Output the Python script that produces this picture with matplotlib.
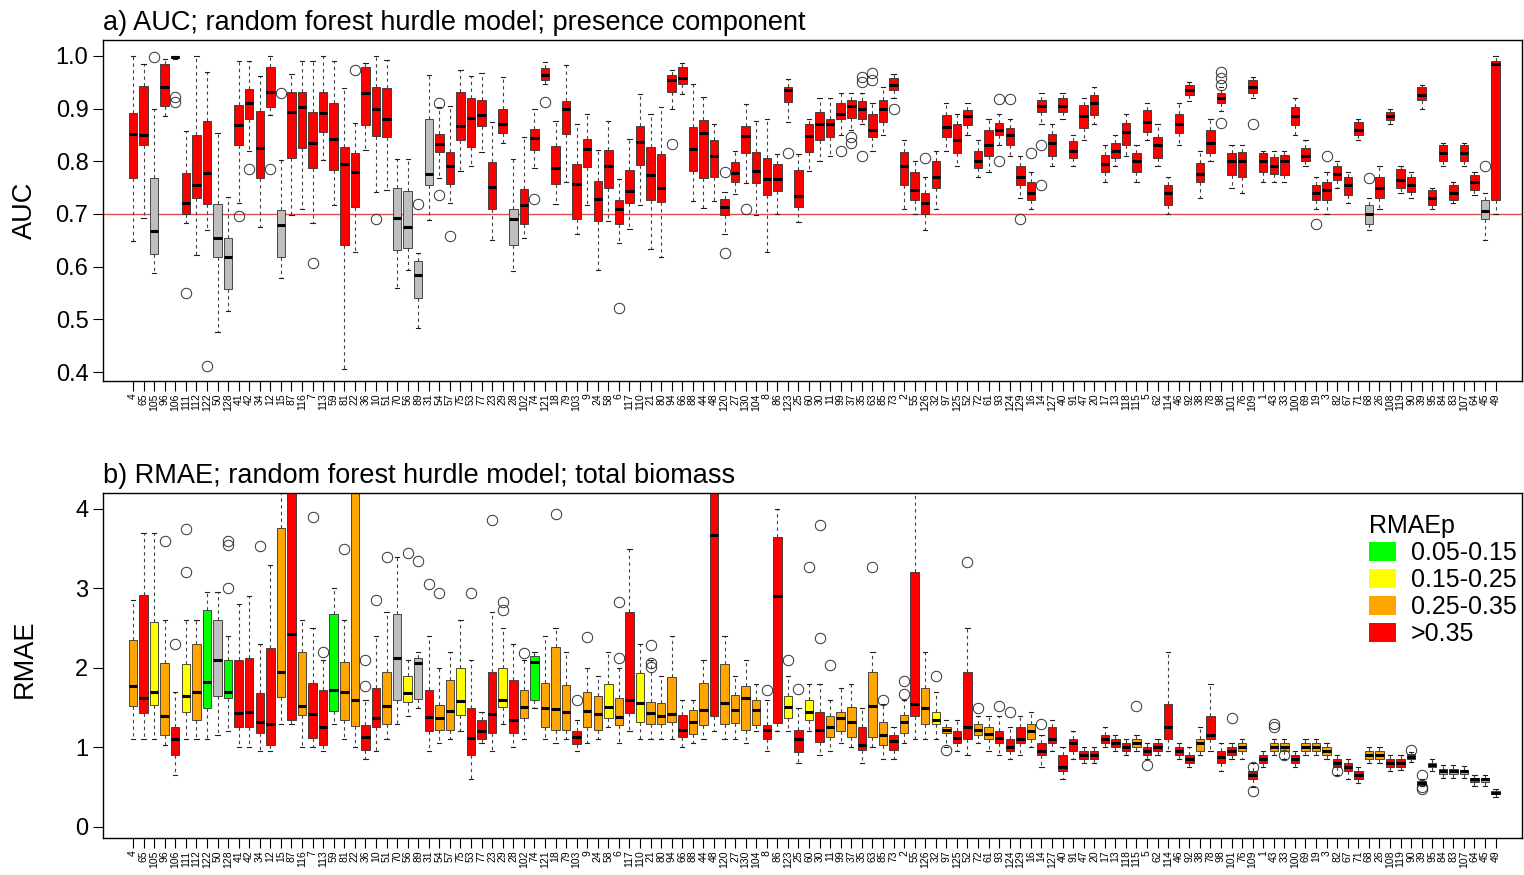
import matplotlib
matplotlib.use("Agg")
import matplotlib.pyplot as plt
from matplotlib.patches import Patch

plt.rcParams['font.family'] = ['Liberation Sans', 'DejaVu Sans']

species = [4, 65, 105, 96, 106, 111, 112, 122, 50, 128,
           41, 42, 34, 12, 15, 87, 116, 7, 113, 59,
           81, 22, 36, 10, 51, 70, 56, 89, 31, 54,
           57, 75, 53, 77, 23, 29, 28, 102, 74, 121,
           18, 79, 103, 9, 24, 58, 6, 117, 110, 21,
           80, 94, 66, 88, 44, 48, 120, 27, 130, 104,
           8, 86, 123, 25, 60, 30, 11, 99, 37, 35,
           63, 85, 73, 2, 55, 126, 32, 97, 125, 52,
           72, 61, 93, 124, 129, 16, 14, 127, 40, 91,
           47, 20, 17, 13, 118, 115, 5, 62, 114, 46,
           92, 38, 78, 98, 101, 76, 109, 1, 43, 33,
           100, 69, 19, 3, 82, 67, 71, 68, 26, 108,
           119, 90, 39, 95, 84, 83, 107, 64, 45, 49]

# ---- panel a: AUC ----
auc_lo = [0.648, 0.692, 0.587, 0.886, 0.993, 0.682, 0.622, 0.669, 0.476, 0.515,
          0.720, 0.820, 0.676, 0.888, 0.578, 0.698, 0.709, 0.682, 0.803, 0.717,
          0.405, 0.628, 0.822, 0.741, 0.746, 0.559, 0.593, 0.483, 0.689, 0.768,
          0.720, 0.781, 0.790, 0.817, 0.650, 0.835, 0.591, 0.655, 0.787, 0.946,
          0.718, 0.760, 0.662, 0.717, 0.593, 0.687, 0.644, 0.671, 0.717, 0.633,
          0.618, 0.900, 0.927, 0.724, 0.711, 0.724, 0.662, 0.738, 0.759, 0.698,
          0.628, 0.699, 0.875, 0.685, 0.782, 0.800, 0.810, 0.850, 0.860, 0.870,
          0.820, 0.850, 0.920, 0.710, 0.700, 0.670, 0.710, 0.820, 0.790, 0.850,
          0.770, 0.780, 0.830, 0.810, 0.730, 0.710, 0.870, 0.790, 0.880, 0.790,
          0.840, 0.870, 0.760, 0.790, 0.810, 0.760, 0.840, 0.790, 0.700, 0.830,
          0.915, 0.730, 0.800, 0.895, 0.750, 0.740, 0.920, 0.760, 0.760, 0.760,
          0.850, 0.790, 0.710, 0.700, 0.750, 0.720, 0.840, 0.670, 0.710, 0.870,
          0.740, 0.730, 0.900, 0.710, 0.790, 0.720, 0.790, 0.735, 0.650, 0.700]
auc_q1 = [0.769, 0.831, 0.624, 0.905, 0.995, 0.699, 0.730, 0.719, 0.618, 0.557,
          0.831, 0.880, 0.768, 0.902, 0.618, 0.806, 0.825, 0.787, 0.855, 0.784,
          0.641, 0.714, 0.869, 0.847, 0.846, 0.631, 0.636, 0.540, 0.754, 0.817,
          0.757, 0.840, 0.827, 0.866, 0.710, 0.854, 0.641, 0.681, 0.821, 0.955,
          0.757, 0.851, 0.690, 0.789, 0.687, 0.749, 0.681, 0.720, 0.792, 0.727,
          0.722, 0.931, 0.946, 0.782, 0.769, 0.770, 0.698, 0.760, 0.816, 0.759,
          0.735, 0.744, 0.913, 0.714, 0.817, 0.840, 0.846, 0.880, 0.882, 0.880,
          0.845, 0.875, 0.936, 0.755, 0.727, 0.700, 0.750, 0.846, 0.816, 0.869,
          0.787, 0.810, 0.850, 0.830, 0.755, 0.727, 0.893, 0.810, 0.893, 0.806,
          0.863, 0.888, 0.780, 0.806, 0.830, 0.780, 0.855, 0.806, 0.717, 0.853,
          0.926, 0.760, 0.816, 0.910, 0.774, 0.770, 0.930, 0.780, 0.776, 0.774,
          0.869, 0.800, 0.727, 0.727, 0.765, 0.735, 0.850, 0.680, 0.730, 0.878,
          0.750, 0.742, 0.916, 0.717, 0.800, 0.727, 0.800, 0.745, 0.690, 0.727]
auc_med = [0.852, 0.849, 0.668, 0.940, 0.998, 0.720, 0.754, 0.778, 0.655, 0.618,
           0.869, 0.910, 0.825, 0.932, 0.679, 0.894, 0.902, 0.834, 0.892, 0.843,
           0.794, 0.780, 0.929, 0.900, 0.880, 0.693, 0.676, 0.585, 0.776, 0.832,
           0.790, 0.867, 0.882, 0.887, 0.752, 0.870, 0.690, 0.716, 0.844, 0.964,
           0.787, 0.899, 0.757, 0.824, 0.729, 0.790, 0.709, 0.743, 0.837, 0.773,
           0.750, 0.954, 0.957, 0.824, 0.854, 0.810, 0.713, 0.777, 0.847, 0.782,
           0.766, 0.766, 0.935, 0.734, 0.847, 0.870, 0.870, 0.890, 0.905, 0.900,
           0.860, 0.900, 0.945, 0.790, 0.745, 0.720, 0.770, 0.865, 0.840, 0.885,
           0.800, 0.830, 0.860, 0.850, 0.770, 0.740, 0.905, 0.835, 0.905, 0.820,
           0.885, 0.910, 0.795, 0.820, 0.855, 0.800, 0.875, 0.830, 0.740, 0.870,
           0.935, 0.775, 0.835, 0.920, 0.800, 0.800, 0.940, 0.800, 0.790, 0.800,
           0.885, 0.810, 0.740, 0.745, 0.775, 0.755, 0.860, 0.700, 0.750, 0.885,
           0.765, 0.755, 0.925, 0.730, 0.815, 0.740, 0.815, 0.760, 0.705, 0.985]
auc_q3 = [0.892, 0.942, 0.769, 0.985, 1.000, 0.777, 0.850, 0.876, 0.719, 0.654,
          0.906, 0.937, 0.896, 0.978, 0.708, 0.931, 0.931, 0.894, 0.931, 0.911,
          0.827, 0.815, 0.978, 0.940, 0.938, 0.749, 0.743, 0.611, 0.881, 0.851,
          0.817, 0.932, 0.919, 0.916, 0.799, 0.900, 0.710, 0.748, 0.862, 0.977,
          0.829, 0.915, 0.794, 0.843, 0.762, 0.822, 0.727, 0.784, 0.867, 0.827,
          0.813, 0.964, 0.978, 0.864, 0.878, 0.841, 0.728, 0.799, 0.867, 0.818,
          0.806, 0.794, 0.940, 0.784, 0.870, 0.893, 0.880, 0.910, 0.916, 0.915,
          0.890, 0.916, 0.958, 0.818, 0.780, 0.740, 0.800, 0.888, 0.870, 0.897,
          0.820, 0.860, 0.873, 0.863, 0.790, 0.760, 0.916, 0.852, 0.920, 0.838,
          0.907, 0.926, 0.812, 0.835, 0.873, 0.815, 0.897, 0.846, 0.755, 0.890,
          0.945, 0.797, 0.860, 0.930, 0.815, 0.818, 0.955, 0.815, 0.808, 0.812,
          0.903, 0.825, 0.755, 0.760, 0.790, 0.770, 0.875, 0.717, 0.770, 0.893,
          0.785, 0.770, 0.940, 0.745, 0.830, 0.755, 0.830, 0.774, 0.727, 0.990]
auc_hi = [1.000, 0.985, 0.899, 0.994, 1.000, 0.857, 1.000, 0.969, 0.854, 0.733,
          0.991, 0.991, 0.962, 0.999, 0.803, 0.966, 0.990, 0.991, 1.000, 0.991,
          0.938, 0.873, 0.986, 1.000, 0.992, 0.805, 0.805, 0.626, 0.964, 0.903,
          0.905, 0.973, 0.962, 0.967, 0.875, 0.959, 0.804, 0.845, 0.900, 0.988,
          0.876, 0.983, 0.870, 0.889, 0.822, 0.876, 0.767, 0.843, 0.927, 0.890,
          0.902, 0.973, 0.986, 0.946, 0.922, 0.870, 0.741, 0.819, 0.908, 0.876,
          0.880, 0.813, 0.956, 0.813, 0.880, 0.920, 0.920, 0.930, 0.930, 0.930,
          0.910, 0.940, 0.965, 0.840, 0.800, 0.770, 0.820, 0.910, 0.890, 0.910,
          0.840, 0.880, 0.890, 0.880, 0.810, 0.780, 0.930, 0.870, 0.930, 0.850,
          0.920, 0.940, 0.830, 0.850, 0.890, 0.830, 0.910, 0.870, 0.770, 0.910,
          0.950, 0.820, 0.880, 0.940, 0.830, 0.830, 0.960, 0.820, 0.820, 0.820,
          0.920, 0.840, 0.770, 0.780, 0.800, 0.780, 0.880, 0.730, 0.790, 0.900,
          0.790, 0.780, 0.945, 0.750, 0.835, 0.760, 0.835, 0.780, 0.740, 1.000]
auc_out = {3: [0.997], 5: [0.921, 0.913], 6: [0.550], 8: [0.411], 11: [0.696],
           12: [0.785], 14: [0.785], 15: [0.929], 18: [0.606], 22: [0.973],
           24: [0.690], 28: [0.719], 30: [0.911, 0.736], 31: [0.659], 39: [0.729],
           40: [0.913], 47: [0.522], 52: [0.832], 57: [0.780, 0.626], 59: [0.710],
           63: [0.815], 68: [0.82], 69: [0.846, 0.835], 70: [0.96, 0.95, 0.81],
           71: [0.968, 0.955], 73: [0.90], 76: [0.806], 83: [0.918, 0.80],
           84: [0.918], 85: [0.69], 86: [0.815], 87: [0.83, 0.755],
           104: [0.97, 0.958, 0.945, 0.873], 107: [0.87], 113: [0.68],
           114: [0.81], 118: [0.768], 129: [0.79]}
auc_cat = list("rrgrrrrrgg"
               "rrrrgrrrrr"
               "rrrrrggggr"
               "rrrrrrgrrr"
               "rrrrrrrrrr"
               "rrrrrrrrrr"
               "rrrrrrrrrr"
               "rrrrrrrrrr"
               "rrrrrrrrrr"
               "rrrrrrrrrr"
               "rrrrrrrrrr"
               "rrrrrrrgrr"
               "rrrrrrrrgr")

# ---- panel b: RMAE ----
rmae_lo = [1.10, 1.10, 1.10, 1.03, 0.65, 1.10, 1.10, 1.10, 1.15, 1.20,
           1.00, 1.00, 0.95, 0.95, 1.30, 1.30, 1.00, 1.00, 0.95, 1.30,
           1.10, 1.00, 0.85, 0.95, 1.10, 1.30, 1.40, 1.50, 0.95, 1.05,
           1.10, 1.20, 0.60, 1.05, 0.95, 1.30, 1.00, 1.10, 1.50, 1.10,
           1.05, 1.10, 0.95, 1.05, 1.10, 1.25, 1.05, 1.20, 1.10, 1.10,
           1.10, 1.10, 1.00, 1.05, 1.10, 1.20, 1.10, 1.10, 1.05, 1.20,
           0.95, 1.20, 1.20, 0.80, 1.20, 0.90, 0.95, 1.05, 1.00, 0.80,
           1.00, 0.85, 0.85, 1.05, 1.10, 1.10, 1.10, 1.00, 0.95, 0.90,
           1.05, 0.95, 0.90, 0.85, 0.90, 1.00, 0.75, 0.95, 0.60, 0.85,
           0.80, 0.80, 1.00, 0.95, 0.90, 0.95, 0.85, 0.90, 0.95, 0.85,
           0.75, 0.90, 0.95, 0.70, 0.85, 0.85, 0.50, 0.75, 0.90, 0.85,
           0.75, 0.90, 0.90, 0.85, 0.65, 0.60, 0.55, 0.80, 0.80, 0.70,
           0.72, 0.82, 0.52, 0.70, 0.62, 0.62, 0.62, 0.52, 0.52, 0.38]
rmae_q1 = [1.52, 1.43, 1.53, 1.16, 0.90, 1.45, 1.35, 1.50, 1.64, 1.62,
           1.26, 1.25, 1.18, 1.03, 1.63, 1.35, 1.41, 1.12, 1.03, 1.46,
           1.35, 1.27, 0.97, 1.25, 1.30, 1.60, 1.57, 1.61, 1.20, 1.22,
           1.22, 1.41, 0.90, 1.10, 1.18, 1.51, 1.18, 1.37, 1.60, 1.26,
           1.22, 1.22, 1.04, 1.26, 1.22, 1.37, 1.28, 1.43, 1.32, 1.30,
           1.30, 1.32, 1.13, 1.17, 1.28, 1.40, 1.30, 1.31, 1.22, 1.28,
           1.10, 1.31, 1.37, 0.94, 1.35, 1.07, 1.13, 1.20, 1.13, 0.97,
           1.13, 1.03, 0.97, 1.18, 1.40, 1.30, 1.30, 1.18, 1.05, 1.10,
           1.15, 1.10, 1.05, 0.95, 1.05, 1.10, 0.90, 1.05, 0.70, 0.95,
           0.85, 0.85, 1.05, 1.00, 0.95, 1.00, 0.90, 0.95, 1.10, 0.90,
           0.80, 0.95, 1.10, 0.80, 0.90, 0.95, 0.60, 0.80, 0.95, 0.95,
           0.80, 0.95, 0.95, 0.90, 0.75, 0.70, 0.60, 0.85, 0.85, 0.75,
           0.75, 0.85, 0.53, 0.75, 0.67, 0.67, 0.66, 0.56, 0.56, 0.41]
rmae_med = [1.77, 1.62, 1.70, 1.40, 1.10, 1.65, 1.70, 1.82, 2.10, 1.70,
            1.43, 1.44, 1.32, 1.30, 1.95, 2.43, 1.52, 1.42, 1.25, 1.72,
            1.70, 1.60, 1.13, 1.37, 1.52, 2.13, 1.68, 2.06, 1.38, 1.37,
            1.46, 1.58, 1.12, 1.20, 1.42, 1.60, 1.35, 1.51, 2.08, 1.50,
            1.48, 1.45, 1.13, 1.46, 1.42, 1.51, 1.38, 1.60, 1.56, 1.43,
            1.40, 1.42, 1.22, 1.32, 1.47, 3.67, 1.56, 1.47, 1.62, 1.47,
            1.22, 2.90, 1.51, 1.10, 1.45, 1.22, 1.25, 1.37, 1.32, 1.03,
            1.52, 1.16, 1.08, 1.32, 1.55, 1.50, 1.35, 1.22, 1.12, 1.25,
            1.22, 1.17, 1.12, 1.00, 1.10, 1.20, 0.95, 1.10, 0.75, 1.05,
            0.90, 0.90, 1.10, 1.05, 1.00, 1.05, 0.95, 1.00, 1.25, 0.95,
            0.85, 1.05, 1.15, 0.88, 0.95, 1.00, 0.65, 0.85, 1.00, 1.00,
            0.85, 1.00, 1.00, 0.95, 0.80, 0.75, 0.65, 0.90, 0.90, 0.80,
            0.80, 0.88, 0.55, 0.78, 0.70, 0.70, 0.70, 0.60, 0.60, 0.43]
rmae_q3 = [2.35, 2.92, 2.58, 2.06, 1.25, 2.05, 2.30, 2.73, 2.60, 2.10,
           2.10, 2.12, 1.69, 2.25, 3.76, 4.30, 2.20, 1.81, 1.72, 2.68,
           2.08, 4.30, 1.28, 1.75, 1.95, 2.68, 1.90, 2.12, 1.72, 1.53,
           1.85, 2.00, 1.50, 1.35, 1.95, 2.00, 1.85, 1.72, 2.15, 1.81,
           2.26, 1.79, 1.20, 1.70, 1.64, 1.80, 1.62, 2.70, 1.94, 1.57,
           1.56, 1.89, 1.41, 1.47, 1.81, 4.30, 2.05, 1.66, 1.77, 1.60,
           1.28, 3.64, 1.64, 1.22, 1.60, 1.45, 1.40, 1.45, 1.51, 1.25,
           1.95, 1.32, 1.16, 1.41, 3.20, 1.75, 1.45, 1.25, 1.20, 1.95,
           1.30, 1.25, 1.20, 1.10, 1.25, 1.30, 1.05, 1.25, 0.90, 1.10,
           0.95, 0.95, 1.15, 1.10, 1.05, 1.10, 1.00, 1.05, 1.55, 1.00,
           0.90, 1.10, 1.40, 0.95, 1.00, 1.05, 0.70, 0.90, 1.05, 1.05,
           0.90, 1.05, 1.05, 1.00, 0.85, 0.80, 0.70, 0.95, 0.95, 0.85,
           0.85, 0.92, 0.58, 0.80, 0.73, 0.73, 0.72, 0.62, 0.62, 0.45]
rmae_hi = [2.85, 3.70, 3.70, 2.60, 1.70, 2.60, 2.60, 2.95, 2.95, 2.40,
           2.80, 2.90, 2.30, 3.30, 4.30, 4.30, 2.60, 2.50, 2.10, 3.00,
           2.60, 4.30, 1.60, 2.40, 2.70, 3.40, 2.10, 2.20, 2.40, 2.00,
           2.20, 2.60, 2.10, 1.45, 2.70, 2.50, 2.30, 2.10, 2.20, 2.40,
           2.50, 2.20, 1.35, 2.00, 1.90, 2.20, 2.00, 3.50, 2.30, 2.10,
           1.90, 2.40, 1.60, 1.60, 2.10, 4.30, 2.40, 1.90, 2.10, 1.80,
           1.60, 4.00, 1.90, 1.50, 1.80, 1.80, 1.60, 1.75, 1.80, 1.50,
           2.20, 1.55, 1.25, 1.60, 4.30, 2.20, 1.70, 1.35, 1.35, 2.50,
           1.40, 1.40, 1.40, 1.25, 1.40, 1.45, 1.15, 1.35, 1.00, 1.20,
           1.00, 1.00, 1.25, 1.15, 1.10, 1.15, 1.05, 1.10, 2.20, 1.05,
           1.00, 1.25, 1.80, 1.05, 1.05, 1.10, 0.80, 0.95, 1.10, 1.10,
           0.95, 1.10, 1.10, 1.05, 0.90, 0.85, 0.75, 1.00, 1.00, 0.90,
           0.90, 0.94, 0.60, 0.85, 0.78, 0.78, 0.76, 0.65, 0.65, 0.47]
rmae_out = {4: [3.6], 5: [2.3], 6: [3.75, 3.2], 10: [3.6, 3.55, 3.0], 13: [3.53],
            18: [3.9], 19: [2.2], 21: [3.5], 23: [2.1, 1.77], 24: [2.85],
            25: [3.4], 27: [3.45], 28: [3.35], 29: [3.06], 30: [2.94],
            33: [2.94], 35: [3.86], 36: [2.83, 2.73], 38: [2.19], 41: [3.94],
            43: [1.6], 44: [2.39], 47: [2.83, 2.12], 50: [2.29, 2.06, 2.01],
            61: [1.72], 63: [2.1], 64: [1.74], 65: [3.27], 66: [3.8, 2.38],
            67: [2.04], 71: [3.27], 72: [1.6], 74: [1.84, 1.67], 77: [1.9],
            78: [0.97], 80: [3.33], 81: [1.5], 83: [1.52], 84: [1.45],
            87: [1.3], 96: [1.52], 97: [0.78], 105: [1.37], 107: [0.45, 0.75],
            109: [1.3, 1.25], 110: [0.9], 115: [0.7], 122: [0.97],
            123: [0.65, 0.5, 0.47]}
rmae_cat = list("ORYORYOGXG"
                "RRRRORORRG"
                "OORROXYXRO"
                "OYRRRYROGO"
                "OOROOYORYO"
                "OOROOROOOO"
                "RRYRYROOOR"
                "OOROROYORR"
                "OORRRORRRR"
                "RRRRRORRRR"
                "RORRRORROO"
                "ROOORRROOR"
                "RRROOOOROR")

col_a = {'r': '#FF0000', 'g': '#BEBEBE'}
col_b = {'G': '#00FF00', 'Y': '#FFFF00', 'O': '#FFA500', 'R': '#FF0000',
         'X': '#BEBEBE'}
legend_labels = ['0.05-0.15', '0.15-0.25', '0.25-0.35', '>0.35']
legend_cols = ['#00FF00', '#FFFF00', '#FFA500', '#FF0000']


def draw(ax, lo, q1, med, q3, hi, out, cats, cmap):
    stats = []
    for i in range(len(species)):
        stats.append(dict(whislo=lo[i], q1=q1[i], med=med[i], q3=q3[i],
                          whishi=hi[i], fliers=out.get(i + 1, [])))
    pos = list(range(1, len(species) + 1))
    bp = ax.bxp(stats, positions=pos, widths=0.8, patch_artist=True,
                showfliers=True,
                boxprops=dict(linewidth=0.6, edgecolor='#303030'),
                medianprops=dict(color='black', linewidth=2.2),
                whiskerprops=dict(color='#404040', linewidth=0.8, linestyle=(0, (3, 3))),
                capprops=dict(color='#202020', linewidth=0.8),
                capwidths=0.4,
                flierprops=dict(marker='o', markerfacecolor='none',
                                markeredgecolor='#303030', markersize=7.5,
                                markeredgewidth=0.7))
    for b, c in zip(bp['boxes'], cats):
        b.set_facecolor(cmap[c])
    ax.set_xlim(-1.84, 132.5)
    ax.set_xticks(pos)
    ax.set_xticklabels([str(s) for s in species], rotation=90, fontsize=7.5)
    ax.tick_params(axis='x', length=7, width=0.8, pad=2)
    ax.tick_params(axis='y', length=7, width=0.8, labelsize=17)
    for s in ax.spines.values():
        s.set_linewidth(1.0)


fig = plt.figure(figsize=(15.24, 8.75), dpi=100)
ax1 = fig.add_axes([0.0676, 0.5646, 0.9311, 0.3897])
ax2 = fig.add_axes([0.0676, 0.0423, 0.9311, 0.3943])

draw(ax1, auc_lo, auc_q1, auc_med, auc_q3, auc_hi, auc_out, auc_cat, col_a)
ax1.axhline(0.7, color='#E05050', linewidth=1.0, zorder=0)
ax1.set_ylim(0.383, 1.03)
ax1.set_yticks([0.4, 0.5, 0.6, 0.7, 0.8, 0.9, 1.0])
ax1.set_yticklabels(['0.4', '0.5', '0.6', '0.7', '0.8', '0.9', '1.0'])
ax1.set_ylabel('AUC', fontsize=19.5)
ax1.yaxis.set_label_coords(-0.046, 0.5)
ax1.set_title('a) AUC; random forest hurdle model; presence component',
              loc='left', fontsize=19.5, pad=7, x=0.0)

draw(ax2, rmae_lo, rmae_q1, rmae_med, rmae_q3, rmae_hi, rmae_out, rmae_cat, col_b)
ax2.set_ylim(-0.14, 4.2)
ax2.set_yticks([0, 1, 2, 3, 4])
ax2.set_ylabel('RMAE', fontsize=19.5)
ax2.yaxis.set_label_coords(-0.046, 0.52)
ax2.set_title('b) RMAE; random forest hurdle model; total biomass',
              loc='left', fontsize=19.5, pad=7, x=0.0)
handles = [Patch(facecolor=c, edgecolor='none') for c in legend_cols]
leg = ax2.legend(handles, legend_labels, title='RMAEp', loc='upper right',
                 bbox_to_anchor=(1.007, 0.982), borderaxespad=0.2, frameon=False,
                 fontsize=18, title_fontsize=18, handlelength=1.1,
                 handleheight=0.8, handletextpad=0.6, labelspacing=0.12,
                 alignment='left')

fig.savefig('out.png', dpi=100)
